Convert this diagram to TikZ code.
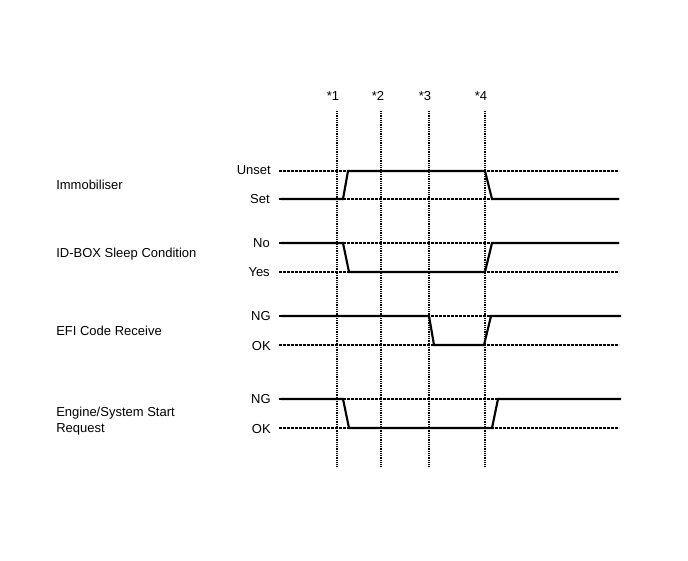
\documentclass[tikz,border=0pt]{standalone}
\usepackage{fontspec}
\setmainfont{Liberation Sans}
\begin{document}
\begin{tikzpicture}[x=0.75pt,y=-0.75pt,
  every node/.style={font=\fontsize{9.75pt}{11.5pt}\selectfont, inner sep=0pt},
  lvl/.style={anchor=east},
  sig/.style={anchor=west},
  tmark/.style={anchor=center},
  refline/.style={line width=0.8pt, dash pattern=on 2.2pt off 0.8pt},
  tline/.style={line width=0.8pt, dash pattern=on 0.75pt off 0.6pt},
  wave/.style={line width=1.6pt, line join=miter}]
\useasboundingbox (0,0) rectangle (688,560);
% time markers
\foreach \n/\x/\lx in {1/337/333,2/381/378,3/429/425,4/485/481}{
  \node[tmark] (m\n) at (\lx,96) {*\n};
  \coordinate (t\n) at (\x,111);
  \coordinate (b\n) at (\x,467);
  \draw[tline] (t\n) -- (b\n);
}
% signal names
\node[sig] (immo) at (56,185) {Immobiliser};
\node[sig] (idbox) at (56,254) {ID-BOX Sleep Condition};
\node[sig] (efi) at (56,331) {EFI Code Receive};
\node[sig, align=left] (eng) at (56,421) {Engine/System Start\\Request};
% levels
\node[lvl] (unset) at (271,170) {Unset};
\node[lvl] (set) at (270,199) {Set};
\node[lvl] (no) at (270,243) {No};
\node[lvl] (yes) at (270,272) {Yes};
\node[lvl] (ng1) at (271,316) {NG};
\node[lvl] (ok1) at (271,346) {OK};
\node[lvl] (ng2) at (271,399) {NG};
\node[lvl] (ok2) at (271,429) {OK};
% reference dotted lines
\foreach \y in {171,199,243,272,316,345,399,428}{
  \coordinate (rs\y) at (279,\y);
  \coordinate (re\y) at (619,\y);
  \draw[refline] (rs\y) -- (re\y);
}
% waveforms
\draw[wave] (281,199) -- (343,199) -- (348,171) -- (485,171) -- (492,199) -- (619,199);
\draw[wave] (281,243) -- (343,243) -- (349,272) -- (485,272) -- (492,243) -- (619,243);
\draw[wave] (281,316) -- (429,316) -- (434,345) -- (484,345) -- (491,316) -- (621,316);
\draw[wave] (281,399) -- (343,399) -- (349,428) -- (492,428) -- (498,399) -- (621,399);
\end{tikzpicture}
\end{document}
